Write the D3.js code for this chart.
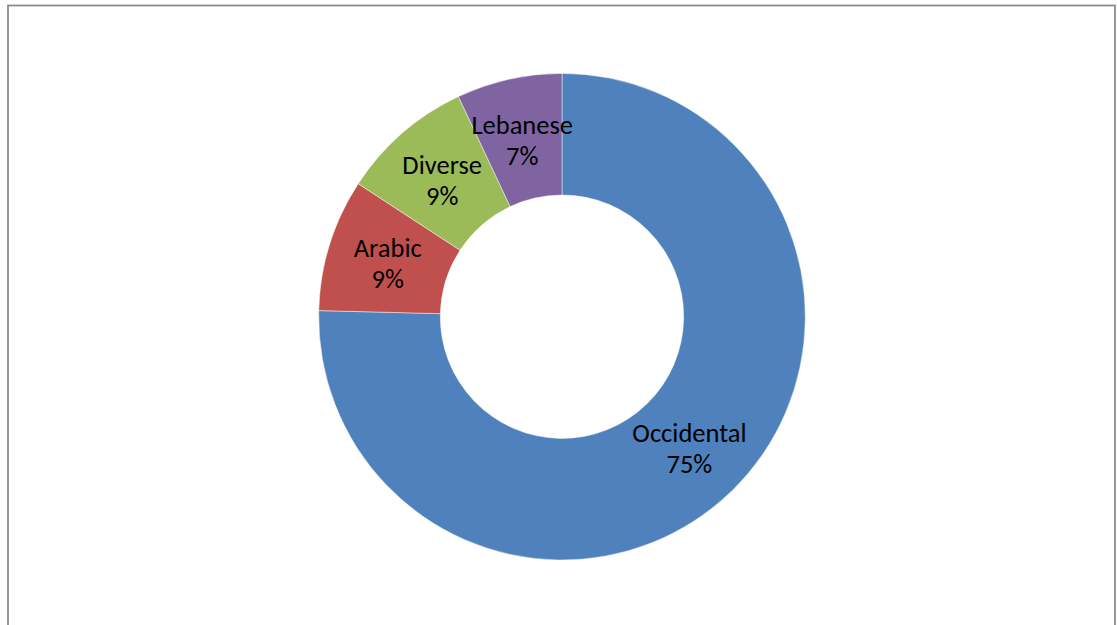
<!DOCTYPE html>
<html>
<head>
<meta charset="utf-8">
<script src="https://cdn.jsdelivr.net/npm/d3@7"></script>
<style>
  html, body { margin: 0; padding: 0; background: #fff; }
  svg { display: block; }
</style>
</head>
<body>
<svg id="chart" width="1117" height="625"></svg>
<script>
// Cuisine types served (share of restaurants, %)
const categories = ["Occidental", "Arabic", "Diverse", "Lebanese"];
const shares = [75.4, 8.8, 8.8, 7.0];
const colors = ["#4F81BD", "#C0504D", "#9BBB59", "#8064A2"];

const svg = d3.select("#chart");

// chart frame
svg.append("rect")
  .attr("x", 8).attr("y", 5.5)
  .attr("width", 1107).attr("height", 640)
  .attr("fill", "none")
  .attr("stroke", "#8c8c8c")
  .attr("stroke-width", 1.8);

const cx = 562, cy = 316.7;
const outerR = 243.3, innerR = 121.7;

const data = categories.map((c, i) => ({ name: c, value: shares[i], color: colors[i] }));
const total = d3.sum(shares);

const pie = d3.pie().value(d => d.value).sort(null);
const arc = d3.arc().innerRadius(innerR).outerRadius(outerR);
const labelArc = d3.arc().innerRadius((innerR + outerR) / 2).outerRadius((innerR + outerR) / 2);

const g = svg.append("g").attr("transform", `translate(${cx},${cy})`);

g.selectAll("path.slice")
  .data(pie(data))
  .join("path")
  .attr("class", "slice")
  .attr("d", arc)
  .attr("fill", d => d.data.color)
  .attr("stroke", "#ffffff")
  .attr("stroke-opacity", 0.45)
  .attr("stroke-width", 1);

const fmt = v => Math.round(v / total * 100) + "%";

const labels = g.selectAll("text.lbl")
  .data(pie(data))
  .join("text")
  .attr("class", "lbl")
  .attr("transform", d => {
    const [x, y] = labelArc.centroid(d);
    return `translate(${x},${y})`;
  })
  .attr("text-anchor", "middle")
  .attr("font-family", "Carlito, Calibri, Lato, sans-serif")
  .attr("font-size", 26.5)
  .attr("fill", "#000");

labels.append("tspan")
  .attr("x", 0).attr("y", -5)
  .text(d => d.data.name);
labels.append("tspan")
  .attr("x", 0).attr("y", 26)
  .text(d => fmt(d.data.value));
</script>
</body>
</html>
